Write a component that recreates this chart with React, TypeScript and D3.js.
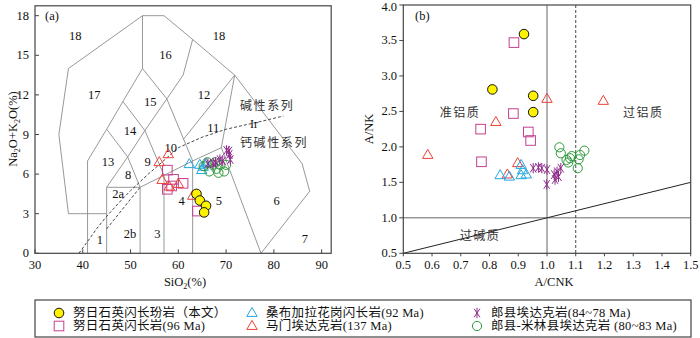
import React from 'react';
import * as d3 from 'd3';

// ---------- DATA ----------
// Panel (a) TAS: [SiO2, Na2O+K2O]
const nuriPorphyryTAS = [[63.8, 4.5], [64.5, 4.0], [65.8, 3.6], [65.4, 3.1]];
const nuriDioriteTAS = [[57.7, 6.3], [59.0, 5.6], [61.0, 5.3], [57.7, 4.85], [58.6, 5.1], [64.0, 3.2]];
const sangbuTAS = [[62.3, 6.75], [64.5, 6.7], [64.9, 6.3], [65.8, 6.8], [65.2, 6.55]];
const mamenTAS = [[56.0, 6.9], [57.9, 7.5], [56.6, 5.55], [58.1, 5.05], [60.0, 5.25], [63.0, 4.35]];
const langxianTAS = [[70.7, 7.5], [70.9, 7.1], [68.7, 7.1], [67.3, 6.8], [66.2, 6.8], [70.6, 7.75], [70.1, 7.8], [69.3, 7.0], [67.8, 6.9]];
const milinTAS = [[65.3, 6.6], [66.1, 6.9], [66.5, 6.2], [67.2, 6.7], [68.0, 6.4], [68.4, 6.1], [68.8, 6.7], [69.6, 6.2], [70.0, 6.7], [67.7, 6.9]];

// Panel (b): [A/CNK, A/NK]
const nuriPorphyryAl = [[0.92, 3.59], [0.81, 2.81], [0.952, 2.72], [0.952, 2.49]];
const nuriDioriteAl = [[0.885, 3.47], [0.883, 2.47], [0.769, 2.25], [0.935, 2.21], [0.943, 2.09], [0.772, 1.79]];
const sangbuAl = [[0.837, 1.6], [0.869, 1.58], [0.91, 1.745], [0.91, 1.6], [0.928, 1.61], [0.915, 1.67]];
const mamenAl = [[0.585, 1.886], [0.822, 2.35], [1.0, 2.676], [1.196, 2.648], [0.898, 1.77], [0.862, 1.61]];
const langxianAl = [[0.952, 1.7], [0.97, 1.71], [0.982, 1.7], [1.0, 1.68], [1.025, 1.61], [1.048, 1.7], [1.04, 1.58], [1.035, 1.65], [0.999, 1.47], [1.028, 1.54]];
const milinAl = [[1.043, 1.994], [1.048, 1.91], [1.068, 1.816], [1.08, 1.84], [1.086, 1.87], [1.115, 1.886], [1.13, 1.947], [1.107, 1.7], [1.11, 1.825], [1.074, 1.78]];

// TAS field boundaries (Middlemost 1994), data units
const tasBoundaries = [
  [[37, 3], [35, 9], [37, 14], [52.5, 18], [57, 18], [63, 16.2], [71.8, 13.5], [85.9, 6.8], [87.5, 4.7], [77.3, 0]],
  [[37, 3], [45, 3]],
  [[41, 0], [41, 7], [45, 9.4], [48.4, 11.5], [52.5, 14], [52.5, 18]],
  [[45, 0], [45, 5], [52, 5], [52, 0]],
  [[52, 5], [57, 5.9], [63, 7], [69, 8]],
  [[57, 0], [57, 5.9]],
  [[63, 0], [63, 7]],
  [[69, 8], [77.3, 0]],
  [[45, 5], [49.4, 7.3], [53, 9.3], [57.6, 11.7], [61, 13.5], [63, 16.2]],
  [[45, 9.4], [49.4, 7.3], [52, 5]],
  [[48.4, 11.5], [53, 9.3], [57, 5.9]],
  [[52.5, 14], [57.6, 11.7], [63, 7]],
  [[61, 8.6], [71.8, 13.5]],
  [[69, 8], [71.8, 13.5]],
];
const irvineLine = [[39.2, 0], [40, 0.4], [43.2, 2], [45, 2.8], [48, 4], [50, 4.75], [53.7, 6], [55, 6.4], [60, 8], [65, 8.8], [70, 9.4], [77.4, 10], [82, 10.4]];
const gabbroDivide = [[45, 1.85], [52, 5]];

const fieldLabels = [
  ['18', 38.4, 16.5], ['18', 68.5, 16.5], ['16', 57.3, 15.0], ['17', 42.4, 12.0], ['15', 54.1, 11.5],
  ['12', 65.4, 12.0], ['14', 49.9, 9.3], ['11', 67.3, 9.5], ['10', 58.4, 8.0], ['13', 45.3, 6.9],
  ['9', 53.6, 6.9], ['8', 49.5, 5.9], ['2a', 47.4, 4.5], ['4', 60.7, 4.0], ['5', 68.5, 4.0],
  ['6', 80.6, 4.0], ['2b', 49.9, 1.46], ['3', 55.6, 1.46], ['1', 43.6, 1.0], ['7', 86.5, 1.1],
];

const tasXTicks = [30, 40, 50, 60, 70, 80, 90];
const tasYTicks = [0, 3, 6, 9, 12, 15, 18];
const alXTicks = [0.5, 0.6, 0.7, 0.8, 0.9, 1.0, 1.1, 1.2, 1.3, 1.4, 1.5];
const alYTicks = [0.5, 1.0, 1.5, 2.0, 2.5, 3.0, 3.5, 4.0];

const legendNames = [
  '努日石英闪长玢岩（本文）',
  '努日石英闪长岩(96 Ma)',
  '桑布加拉花岗闪长岩(92 Ma)',
  '马门埃达克岩(137 Ma)',
  '郎县埃达克岩(84~78 Ma)',
  '郎县-米林县埃达克岩 (80~83 Ma)',
];

// ---------- STYLE ----------
const SERIF = "'Liberation Serif', 'Times New Roman', serif";
const MIXED = "'Liberation Serif', 'Noto Sans CJK SC', serif";
const CJK = "'Noto Sans CJK SC', sans-serif";
const C_YEL = '#fff200';
const C_SQ = '#c4408f';
const C_RED = '#ee4036';
const C_BLUE = '#22a7e0';
const C_PUR = '#8e2a8b';
const C_GRN = '#2e9b3c';
const AXIS = '#444';
const FIELD = '#8c8c8c';

const xa = d3.scaleLinear().domain([30, 92]).range([35, 331.2]);
const ya = d3.scaleLinear().domain([0, 18.75]).range([253.3, 5.8]);
const xb = d3.scaleLinear().domain([0.5, 1.5]).range([403.3, 690.7]);
const yb = d3.scaleLinear().domain([0.5, 4.0]).range([253.3, 5]);

const line = d3.line();

function tri(cx, cy, s = 5.2) {
  const h = s * 1.732;
  return `M${cx},${cy - h * 0.62}L${cx + s},${cy + h * 0.38}L${cx - s},${cy + h * 0.38}Z`;
}
function star(cx, cy, r = 5.2) {
  const a = 0.6;
  const dx = r * Math.sin(a), dy = r * Math.cos(a);
  return `M${cx},${cy - r}L${cx},${cy + r}M${cx - dx},${cy - dy}L${cx + dx},${cy + dy}M${cx + dx},${cy - dy}L${cx - dx},${cy + dy}`;
}

function Marker({ kind, x, y }) {
  if (kind === 'yel') return <circle cx={x} cy={y} r={4.8} fill={C_YEL} stroke="#111" strokeWidth={1} />;
  if (kind === 'sq') return <rect x={x - 4.8} y={y - 4.8} width={9.6} height={9.6} fill="none" stroke={C_SQ} strokeWidth={1} />;
  if (kind === 'blue') return <path d={tri(x, y)} fill="none" stroke={C_BLUE} strokeWidth={1} />;
  if (kind === 'red') return <path d={tri(x, y)} fill="none" stroke={C_RED} strokeWidth={1} />;
  if (kind === 'pur') return <path d={star(x, y)} fill="none" stroke={C_PUR} strokeWidth={1} />;
  return <circle cx={x} cy={y} r={4.6} fill="none" stroke={C_GRN} strokeWidth={1} />;
}

function Series({ data, kind, sx, sy }) {
  return (
    <g>
      {data.map((d, i) => <Marker key={i} kind={kind} x={sx(d[0])} y={sy(d[1])} />)}
    </g>
  );
}

export default function App() {
  const aL = xa.range()[0], aR = xa.range()[1], aT = ya.range()[1], aB = ya.range()[0];
  const bL = xb.range()[0], bR = xb.range()[1], bT = yb.range()[1], bB = yb.range()[0];
  const legendKinds = ['yel', 'sq', 'blue', 'red', 'pur', 'grn'];
  const legendCols = [59, 252, 477];
  const legendRows = [313, 326];
  return (
    <svg width={700} height={338} style={{ position: 'absolute', left: 0, top: 0, background: '#fff' }}>
      {/* ---------- Panel (a) ---------- */}
      <g>
        {tasBoundaries.map((pts, i) => (
          <path key={i} d={line(pts.map(p => [xa(p[0]), ya(p[1])]))} fill="none" stroke={FIELD} strokeWidth={0.9} />
        ))}
        <path d={line(irvineLine.map(p => [xa(p[0]), ya(p[1])]))} fill="none" stroke="#333" strokeWidth={0.9} strokeDasharray="3,2" />
        <path d={line(gabbroDivide.map(p => [xa(p[0]), ya(p[1])]))} fill="none" stroke="#333" strokeWidth={0.9} strokeDasharray="3,2" />
        {fieldLabels.map((l, i) => (
          <text key={i} x={xa(l[1])} y={ya(l[2])} fontFamily={SERIF} fontSize={12.5} textAnchor="middle" dominantBaseline="central" fill="#111">{l[0]}</text>
        ))}
        <text x={240} y={110} fontFamily={CJK} fontSize={12} letterSpacing={1.6} fill="#333">碱性系列</text>
        <text x={250} y={128} fontFamily={SERIF} fontSize={12} fill="#111">Ir</text>
        <text x={240} y={147} fontFamily={CJK} fontSize={12} letterSpacing={1.6} fill="#333">钙碱性系列</text>
        <text x={45} y={20} fontFamily={SERIF} fontSize={12.5} fill="#111">(a)</text>

        <Series data={nuriDioriteTAS} kind="sq" sx={xa} sy={ya} />
        <Series data={mamenTAS} kind="red" sx={xa} sy={ya} />
        <Series data={sangbuTAS} kind="blue" sx={xa} sy={ya} />
        <Series data={milinTAS} kind="grn" sx={xa} sy={ya} />
        <Series data={langxianTAS} kind="pur" sx={xa} sy={ya} />
        <Series data={nuriPorphyryTAS} kind="yel" sx={xa} sy={ya} />

        <rect x={aL} y={aT} width={aR - aL} height={aB - aT} fill="none" stroke={AXIS} strokeWidth={1.2} />
        {tasXTicks.map(t => (
          <g key={t}>
            <line x1={xa(t)} x2={xa(t)} y1={aB} y2={aB - 4} stroke={AXIS} />
            <text x={xa(t)} y={269} fontFamily={SERIF} fontSize={12.5} textAnchor="middle" fill="#111">{t}</text>
          </g>
        ))}
        {tasYTicks.map(t => (
          <g key={t}>
            <line x1={aL} x2={aL + 4} y1={ya(t)} y2={ya(t)} stroke={AXIS} />
            <text x={29} y={ya(t)} fontFamily={SERIF} fontSize={12.5} textAnchor="end" dominantBaseline="central" fill="#111">{t}</text>
          </g>
        ))}
        <text x={185} y={286} fontFamily={SERIF} fontSize={12.5} textAnchor="middle" fill="#111">
          SiO<tspan fontSize={8} dy={3}>2</tspan><tspan dy={-3}>(%)</tspan>
        </text>
        <text transform="translate(17,129) rotate(-90)" fontFamily={SERIF} fontSize={12.5} textAnchor="middle" fill="#111">
          Na<tspan fontSize={8} dy={3}>2</tspan><tspan dy={-3}>O+K</tspan><tspan fontSize={8} dy={3}>2</tspan><tspan dy={-3}>O(%)</tspan>
        </text>
      </g>

      {/* ---------- Panel (b) ---------- */}
      <g>
        <line x1={xb(1.0)} x2={xb(1.0)} y1={bT} y2={bB} stroke="#999" strokeWidth={1.5} />
        <line x1={bL} x2={bR} y1={yb(1.0)} y2={yb(1.0)} stroke="#999" strokeWidth={1.5} />
        <line x1={xb(1.1)} x2={xb(1.1)} y1={bT} y2={bB} stroke="#333" strokeWidth={0.9} strokeDasharray="3,2" />
        <line x1={xb(0.5)} x2={xb(1.5)} y1={yb(0.5)} y2={yb(1.5)} stroke="#222" strokeWidth={1} />
        <text x={xb(0.697)} y={yb(2.5)} fontFamily={CJK} fontSize={12} letterSpacing={1.5} textAnchor="middle" dominantBaseline="central" fill="#333">准铝质</text>
        <text x={xb(1.335)} y={yb(2.5)} fontFamily={CJK} fontSize={12} letterSpacing={1.5} textAnchor="middle" dominantBaseline="central" fill="#333">过铝质</text>
        <text x={xb(0.767)} y={yb(0.76)} fontFamily={CJK} fontSize={12} letterSpacing={1.5} textAnchor="middle" dominantBaseline="central" fill="#333">过碱质</text>
        <text x={415} y={20} fontFamily={SERIF} fontSize={12.5} fill="#111">(b)</text>

        <Series data={nuriDioriteAl} kind="sq" sx={xb} sy={yb} />
        <Series data={mamenAl} kind="red" sx={xb} sy={yb} />
        <Series data={sangbuAl} kind="blue" sx={xb} sy={yb} />
        <Series data={milinAl} kind="grn" sx={xb} sy={yb} />
        <Series data={langxianAl} kind="pur" sx={xb} sy={yb} />
        <Series data={nuriPorphyryAl} kind="yel" sx={xb} sy={yb} />

        <rect x={bL} y={bT} width={bR - bL} height={bB - bT} fill="none" stroke={AXIS} strokeWidth={1.2} />
        {alXTicks.map(t => (
          <g key={t}>
            <line x1={xb(t)} x2={xb(t)} y1={bB} y2={bB + 3} stroke={AXIS} />
            <text x={xb(t)} y={269} fontFamily={SERIF} fontSize={12.5} textAnchor="middle" fill="#111">{t.toFixed(1)}</text>
          </g>
        ))}
        {alYTicks.map(t => (
          <g key={t}>
            <line x1={bL - 4} x2={bL} y1={yb(t)} y2={yb(t)} stroke={AXIS} />
            <text x={397} y={Math.max(yb(t), 6.5)} fontFamily={SERIF} fontSize={12.5} textAnchor="end" dominantBaseline="central" fill="#111">{t.toFixed(1)}</text>
          </g>
        ))}
        <text x={554} y={286} fontFamily={SERIF} fontSize={12.5} textAnchor="middle" fill="#111">A/CNK</text>
        <text transform="translate(373,129) rotate(-90)" fontFamily={SERIF} fontSize={12.5} textAnchor="middle" fill="#111">A/NK</text>
      </g>

      {/* ---------- Legend ---------- */}
      <g>
        <rect x={35} y={300} width={656} height={37} fill="none" stroke={AXIS} strokeWidth={1.2} />
        {legendNames.map((n, i) => {
          const cx = legendCols[Math.floor(i / 2)];
          const cy = legendRows[i % 2];
          return (
            <g key={i}>
              <Marker kind={legendKinds[i]} x={cx} y={cy} />
              <text x={cx + 14} y={cy} dominantBaseline="central" fontFamily={MIXED} fontSize={12.5} letterSpacing={0.3} fill="#111">{n}</text>
            </g>
          );
        })}
      </g>
    </svg>
  );
}
